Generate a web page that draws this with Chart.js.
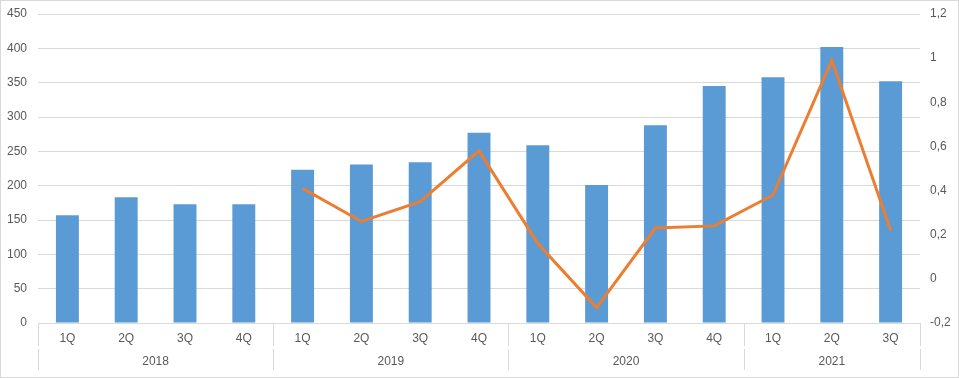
<!DOCTYPE html>
<html>
<head>
<meta charset="utf-8">
<script src="https://cdn.jsdelivr.net/npm/chart.js@4/dist/chart.umd.min.js"></script>
<style>
  body { margin: 0; background: #fff; }
  #wrap { width: 959px; height: 378px; position: relative; }
</style>
</head>
<body>
<div id="wrap"><canvas id="chart"></canvas></div>
<script>
// data
const quarters = ['1Q', '2Q', '3Q', '4Q', '1Q', '2Q', '3Q', '4Q', '1Q', '2Q', '3Q', '4Q', '1Q', '2Q', '3Q'];
const years = ['2018', '2019', '2020', '2021'];
const quartersPerYear = [4, 4, 4, 3];
const barValues = [157, 183, 173, 173, 223, 231, 234, 277, 259, 201, 288, 345, 358, 402, 352];
const lineValues = [null, null, null, null, 0.41, 0.26, 0.35, 0.58, 0.16, -0.13, 0.23, 0.24, 0.38, 0.99, 0.22];

const textColor = '#595959';
const gridColor = '#d9d9d9';
const font = { family: 'Liberation Sans, Arial, sans-serif', size: 12 };

// year row under the quarter labels, with separators
const yearAxis = {
  id: 'yearAxis',
  afterDraw(chart) {
    const ctx = chart.ctx;
    const area = chart.chartArea;
    const step = (area.right - area.left) / quarters.length;
    ctx.save();
    ctx.strokeStyle = gridColor;
    ctx.lineWidth = 1;
    ctx.fillStyle = textColor;
    ctx.font = font.size + 'px ' + font.family;
    ctx.textAlign = 'center';
    ctx.textBaseline = 'middle';
    let idx = 0;
    const edges = [area.left];
    years.forEach((yr, i) => {
      const start = area.left + idx * step;
      idx += quartersPerYear[i];
      const end = area.left + idx * step;
      edges.push(end);
      ctx.fillText(yr, (start + end) / 2, 362);
    });
    edges.forEach(e => {
      const px = Math.round(e) + 0.5;
      ctx.beginPath();
      ctx.moveTo(px, area.bottom);
      ctx.lineTo(px, 346);
      ctx.moveTo(px, 349);
      ctx.lineTo(px, 370);
      ctx.stroke();
    });
    // outer frame
    ctx.strokeRect(0.5, 0.5, chart.width - 1, chart.height - 1);
    ctx.restore();
  }
};

function fixWidth(w) {
  return scale => {
    scale.width = w;
    scale.paddingTop = 0;
    scale.paddingBottom = 0;
  };
}

new Chart(document.getElementById('chart'), {
  type: 'bar',
  data: {
    labels: quarters,
    datasets: [
      {
        type: 'line',
        label: 'Line',
        data: lineValues,
        yAxisID: 'y1',
        borderColor: '#ed7d31',
        borderWidth: 3,
        pointRadius: 0,
        fill: false,
        tension: 0,
        order: 0
      },
      {
        label: 'Bars',
        data: barValues,
        yAxisID: 'y',
        backgroundColor: '#5b9bd5',
        barPercentage: 0.39,
        categoryPercentage: 1,
        order: 1
      }
    ]
  },
  options: {
    responsive: true,
    maintainAspectRatio: false,
    animation: false,
    layout: { padding: { top: 14, left: 0, right: 0, bottom: 0 } },
    plugins: {
      legend: { display: false },
      tooltip: { enabled: false }
    },
    scales: {
      x: {
        grid: { display: false, drawTicks: false },
        border: { display: true, color: gridColor },
        ticks: { color: textColor, font: font, padding: 8, maxRotation: 0, autoSkip: false },
        afterFit(scale) {
          scale.height = 55;
          scale.paddingLeft = 0;
          scale.paddingRight = 0;
        }
      },
      y: {
        position: 'left',
        min: 0,
        max: 450,
        ticks: { stepSize: 50, color: textColor, font: font, padding: 11 },
        grid: { color: gridColor, drawTicks: false },
        border: { display: false },
        afterFit: fixWidth(38)
      },
      y1: {
        position: 'right',
        min: -0.2,
        max: 1.2,
        ticks: {
          stepSize: 0.2,
          color: textColor,
          font: font,
          padding: 10,
          callback: v => String(Number(v.toFixed(1))).replace('.', ',')
        },
        grid: { display: false, drawTicks: false },
        border: { display: false },
        afterFit: fixWidth(39)
      }
    }
  },
  plugins: [yearAxis]
});
</script>
</body>
</html>
